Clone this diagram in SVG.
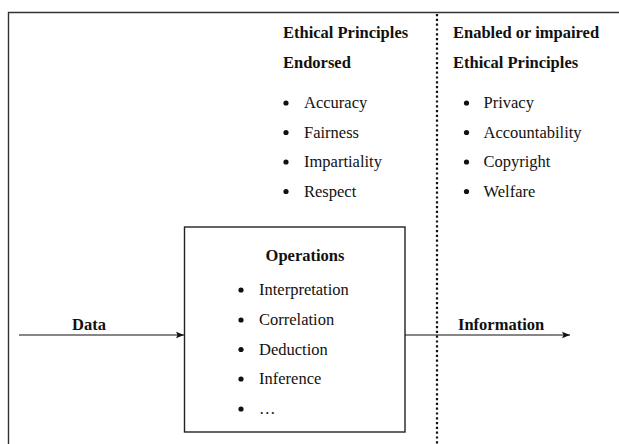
<svg xmlns="http://www.w3.org/2000/svg" width="619" height="444" viewBox="0 0 619 444">
<style>
text{font-family:"Liberation Serif","Times New Roman",serif;font-size:16.5px;fill:#111}
.b{font-weight:bold}
.frame{fill:none;stroke:#333;stroke-width:1.4}
.box{fill:#fff;stroke:#222;stroke-width:1.4}
.dot{fill:#111}
.conn{stroke:#111;stroke-width:1.2;fill:none}
.sep{stroke:#111;stroke-width:2.2;stroke-dasharray:2.2 2.6}
</style>
<defs>
<marker id="ah" viewBox="0 0 10 10" refX="10" refY="5" markerWidth="8" markerHeight="8" markerUnits="userSpaceOnUse" orient="auto">
<path d="M0,1 L10,5 L0,9 L2,5 Z" fill="#111"/>
</marker>
</defs>
<rect width="619" height="444" fill="#fff"/>
<g id="frame">
<path class="frame" d="M8.5,444 V12.5 H619"/>
</g>
<g id="separator">
<line class="sep" x1="437" y1="14" x2="437" y2="444"/>
</g>
<g id="endorsed">
<text class="b" x="283" y="38">Ethical Principles</text>
<text class="b" x="283" y="67.5">Endorsed</text>
<circle class="dot" cx="286" cy="103" r="2.6"/><text x="304" y="108">Accuracy</text>
<circle class="dot" cx="286" cy="132.5" r="2.6"/><text x="304" y="137.5">Fairness</text>
<circle class="dot" cx="286" cy="162" r="2.6"/><text x="304" y="167">Impartiality</text>
<circle class="dot" cx="286" cy="191.5" r="2.6"/><text x="304" y="196.5">Respect</text>
</g>
<g id="enabled">
<text class="b" x="453" y="38">Enabled or impaired</text>
<text class="b" x="453" y="67.5">Ethical Principles</text>
<circle class="dot" cx="466.5" cy="103" r="2.6"/><text x="483.5" y="108">Privacy</text>
<circle class="dot" cx="466.5" cy="132.5" r="2.6"/><text x="483.5" y="137.5">Accountability</text>
<circle class="dot" cx="466.5" cy="162" r="2.6"/><text x="483.5" y="167">Copyright</text>
<circle class="dot" cx="466.5" cy="191.5" r="2.6"/><text x="483.5" y="196.5">Welfare</text>
</g>
<g id="operations">
<rect class="box" x="184.5" y="227" width="220.5" height="205"/>
<text class="b" x="305" y="261" text-anchor="middle">Operations</text>
<circle class="dot" cx="241" cy="290" r="2.6"/><text x="259" y="295">Interpretation</text>
<circle class="dot" cx="241" cy="320" r="2.6"/><text x="259" y="325">Correlation</text>
<circle class="dot" cx="241" cy="349.5" r="2.6"/><text x="259" y="354.5">Deduction</text>
<circle class="dot" cx="241" cy="379" r="2.6"/><text x="259" y="384">Inference</text>
<circle class="dot" cx="241" cy="409" r="2.6"/><text x="259" y="414">…</text>
</g>
<g id="connectors">
<line class="conn" x1="19" y1="335" x2="184" y2="335" marker-end="url(#ah)"/>
<line class="conn" x1="405" y1="335" x2="570" y2="335" marker-end="url(#ah)"/>
<text class="b" x="72" y="329.5">Data</text>
<text class="b" x="458" y="329.5">Information</text>
</g>
</svg>
